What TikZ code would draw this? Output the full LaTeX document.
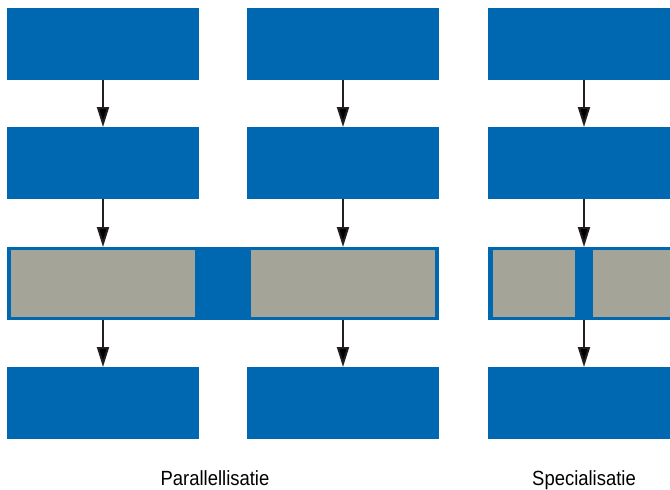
\documentclass[tikz,border=0pt]{standalone}
\usepackage{fontspec}
\usepackage{tikz}
\usetikzlibrary{backgrounds, fit}
\usetikzlibrary{positioning}
\usetikzlibrary{arrows.meta}
\newfontfamily\labelfont{Liberation Sans}[FakeStretch=0.9]
\definecolor{boxblue}{RGB}{0,103,177}
\definecolor{boxgray}{RGB}{164,165,152}
\definecolor{arrowblack}{RGB}{35,31,32}

\begin{document}
\begin{tikzpicture}[
            > = {Triangle[length=20pt,width=12pt]}, % arrow head style
            shorten > = 0pt, % arrow head touches the next box
            line width = 2pt,
            x = 1pt, y = 1pt
            ]

        \tikzstyle{block}=[
            draw = none,
            fill = boxblue,
            inner sep = 0pt,
            outer sep = 0pt,
            minimum width = 192pt,
            minimum height = 72pt
        ]
        \tikzstyle{slot}=[block, fill = none, minimum height = 73pt]
        \tikzstyle{part}=[block, fill = boxgray, minimum height = 67pt]
        \tikzstyle{flow}=[->, draw = arrowblack]

        \useasboundingbox (0,0) rectangle (670,-490);
        \clip (0,0) rectangle (670,-490);

	% top row
        \node[block] (A1) [anchor=north west] at (7,-8) {};
	\node[block] (B1) [right=48pt of A1] {};
	\node[block] (C1) [right=49pt of B1] {};

	% second row
        \node[block] (A2) [below=47pt of A1] {};
        \node[block] (B2) [below=47pt of B1] {};
        \node[block] (C2) [below=47pt of C1] {};

        \path[flow] (A1) edge node {} (A2);
        \path[flow] (B1) edge node {} (B2);
        \path[flow] (C1) edge node {} (C2);

	% shared row
        \node[slot] (A3) [below=48pt of A2] {};
        \node[slot] (B3) [below=48pt of B2] {};
        \node[slot] (C3) [below=48pt of C2] {};

         \node[part, minimum width=184pt] (PA) at (A3) {};
         \node[part, minimum width=184pt] (PB) at (B3) {};
         \node[part, minimum width=82pt] (SA) [left=9pt of C3.center] {};
         \node[part, minimum width=82pt] (SB) [right=9pt of C3.center] {};

        \path[flow] (A2) edge node {} (A3);
        \path[flow] (B2) edge node {} (B3);
        \path[flow] (C2) edge node {} (C3);

	% bottom row
        \node[block] (A4) [below=47pt of A3] {};
        \node[block] (B4) [below=47pt of B3] {};
        \node[block] (C4) [below=47pt of C3] {};

        \path[flow] (A3) edge node {} (A4);
        \path[flow] (B3) edge node {} (B4);
        \path[flow] (C3) edge node {} (C4);

	% labels
         \node (par) [anchor=base, inner sep=0pt] at (215,-485)
              {\labelfont\fontsize{20.5}{24}\selectfont Parallellisatie};
         \node (spec) [anchor=base, inner sep=0pt] at (C4.south |- par.base)
              {\labelfont\fontsize{20.5}{24}\selectfont Specialisatie};

          \begin{scope}[on background layer]
   \node [fit=(A3) (B3), fill=boxblue, inner sep=0pt] (bar) {};
   \node [fit=(C3), fill=boxblue, inner sep=0pt] (bar2) {};
  \end{scope}

  \end{tikzpicture}
\end{document}
